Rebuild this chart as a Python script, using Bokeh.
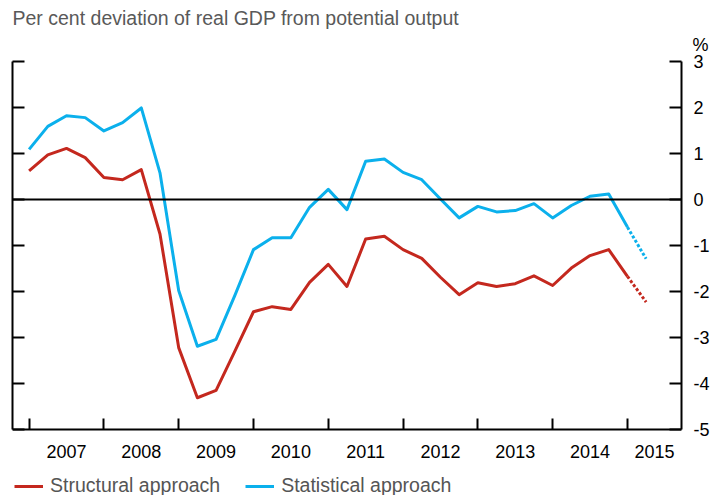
from bokeh.plotting import figure
from bokeh.models import Range1d, LinearAxis, FixedTicker, Span, Title, Legend, LegendItem
from bokeh.embed import file_html
from bokeh.resources import INLINE

# ---- data ----
years = [2007, 2008, 2009, 2010, 2011, 2012, 2013, 2014, 2015]
year_labels = ["2007", "2008", "2009", "2010", "2011", "2012", "2013", "2014", "2015"]
y_ticks = [3, 2, 1, 0, -1, -2, -3, -4, -5]
y_tick_labels = ["3", "2", "1", "0", "-1", "-2", "-3", "-4", "-5"]

# quarterly, 2007 Q1 .. 2015 Q2 (last point is projection, drawn dotted)
structural = [0.62, 0.97, 1.11, 0.91, 0.48, 0.43, 0.65, -0.75,
              -3.22, -4.31, -4.15, -3.30, -2.44, -2.33, -2.39, -1.80,
              -1.41, -1.89, -0.86, -0.80, -1.09, -1.28, -1.69, -2.07,
              -1.81, -1.89, -1.83, -1.66, -1.87, -1.49, -1.22, -1.09,
              -1.67, -2.23]
statistical = [1.09, 1.59, 1.82, 1.78, 1.49, 1.67, 1.99, 0.58,
               -1.98, -3.19, -3.04, -2.09, -1.09, -0.83, -0.83, -0.17,
               0.22, -0.22, 0.83, 0.88, 0.59, 0.43, 0.01, -0.40,
               -0.15, -0.27, -0.24, -0.09, -0.40, -0.13, 0.07, 0.12,
               -0.60, -1.29]
n_actual = 33  # number of solid points

x = [2007 + i * 0.25 for i in range(len(structural))]

RED = "#C4281E"
BLUE = "#0BB0EC"
FONT = "Liberation Sans"

X_START, X_END = 2006.778, 2015.723
Y_MIN, Y_MAX = -5, 3
Y_VIEW_MIN = -6.435   # extra room under the axis for year labels and legend

p = figure(width=712, height=495, output_backend="svg", toolbar_location=None,
           x_range=Range1d(X_START, X_END), y_range=Range1d(Y_VIEW_MIN, Y_MAX),
           min_border_left=12, min_border_right=28, min_border_top=61, min_border_bottom=0,
           x_axis_location=None, y_axis_location=None)
p.outline_line_color = None
p.xgrid.grid_line_color = None
p.ygrid.grid_line_color = None
p.background_fill_color = "white"
p.border_fill_color = "white"

# titles (nearest the frame first)
pct = Title(text="%", align="right", offset=-27, standoff=13, vertical_align="bottom",
            text_font=FONT, text_font_size="18px", text_font_style="normal", text_color="black")
p.add_layout(pct, "above")
sub = Title(text="Per cent deviation of real GDP from potential output", align="left",
            offset=0, standoff=-4, vertical_align="bottom",
            text_font=FONT, text_font_size="19.5px", text_font_style="normal", text_color="#595959")
p.add_layout(sub, "above")

# bottom axis fixed at y=-5: labels centred in each year, tick marks at year boundaries
label_pos = [y + 0.5 for y in years[:-1]] + [(years[-1] + X_END) / 2]
xaxis = LinearAxis(ticker=FixedTicker(ticks=label_pos, minor_ticks=years), fixed_location=Y_MIN,
                   major_label_overrides={pos: lab for pos, lab in zip(label_pos, year_labels)})
xaxis.major_tick_line_color = None
xaxis.minor_tick_in = 11
xaxis.minor_tick_out = 0
xaxis.minor_tick_line_width = 2
xaxis.minor_tick_line_color = "black"
xaxis.axis_line_width = 2
xaxis.axis_line_color = "black"
xaxis.major_label_text_font = FONT
xaxis.major_label_text_font_size = "18px"
xaxis.major_label_text_color = "black"
xaxis.major_label_standoff = 10
p.add_layout(xaxis, "below")

# left axis: tick marks only (drawn as minor ticks, no labels)
yl = LinearAxis(ticker=FixedTicker(ticks=[], minor_ticks=y_ticks), bounds=(Y_MIN, Y_MAX))
yl.major_tick_line_color = None
yl.minor_tick_in = 12
yl.minor_tick_out = 0
yl.minor_tick_line_width = 2
yl.minor_tick_line_color = "black"
yl.axis_line_width = 2
yl.major_label_standoff = 0
p.add_layout(yl, "left")

# right axis: ticks and labels
yr = LinearAxis(ticker=FixedTicker(ticks=y_ticks), bounds=(Y_MIN, Y_MAX),
                major_label_overrides={t: lab for t, lab in zip(y_ticks, y_tick_labels)})
yr.major_tick_in = 12
yr.major_tick_out = 0
yr.major_tick_line_width = 2
yr.minor_tick_line_color = None
yr.axis_line_width = 2
yr.major_label_text_font = FONT
yr.major_label_text_font_size = "18px"
yr.major_label_text_color = "black"
yr.major_label_standoff = 12
p.add_layout(yr, "right")

p.add_layout(Span(location=0, dimension="width", line_color="black", line_width=2))

r_red = p.line(x[:n_actual], structural[:n_actual], line_color=RED, line_width=3, line_join="round")
p.line(x[n_actual - 1:], structural[n_actual - 1:], line_color=RED, line_width=3, line_dash="3 2")
r_blue = p.line(x[:n_actual], statistical[:n_actual], line_color=BLUE, line_width=3, line_join="round")
p.line(x[n_actual - 1:], statistical[n_actual - 1:], line_color=BLUE, line_width=3, line_dash="3 2")

legend = Legend(items=[LegendItem(label="Structural approach", renderers=[r_red]),
                       LegendItem(label="Statistical approach", renderers=[r_blue])],
                orientation="horizontal", location=(2, -2))
legend.border_line_color = None
legend.background_fill_alpha = 0
legend.padding = 0
legend.margin = 0
legend.spacing = 25
legend.glyph_width = 29
legend.glyph_height = 18
legend.label_height = 18
legend.label_standoff = 7
legend.label_text_font = FONT
legend.label_text_font_size = "19.5px"
legend.label_text_color = "#555555"
p.add_layout(legend)

open("out.html", "w").write(file_html(p, INLINE))
